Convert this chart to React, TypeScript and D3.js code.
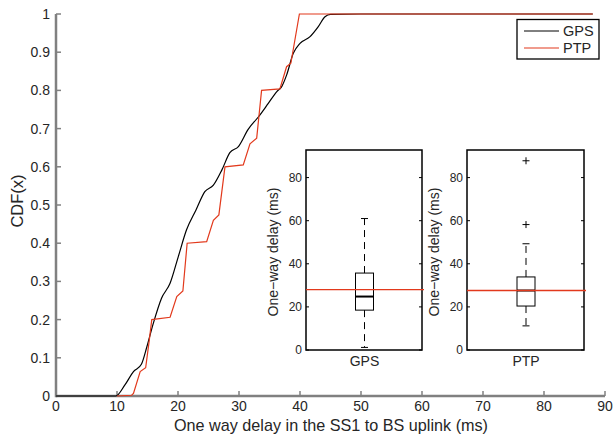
import React from "react";
import * as d3 from "d3";

// CDF samples (delay in ms, cumulative fraction)
const gpsDelay = [0, 9.8, 11.3, 12.7, 14.0, 14.9, 15.95, 17.3, 18.7, 20.05, 21.4, 22.95, 24.4, 25.8, 27.2, 28.5, 29.9, 31.5, 33.2, 34.8, 36.2, 37.0, 37.8, 38.9, 40.0, 41.6, 43.0, 44.1, 45.0, 50, 88];
const gpsCdf = [0, 0, 0.029, 0.064, 0.083, 0.129, 0.19, 0.256, 0.295, 0.365, 0.435, 0.487, 0.535, 0.552, 0.592, 0.637, 0.653, 0.698, 0.731, 0.766, 0.797, 0.81, 0.84, 0.897, 0.923, 0.94, 0.967, 0.993, 0.999, 1, 1];

const ptpDelay = [10, 12.4, 12.7, 13.8, 14.7, 15.3, 15.7, 18.7, 19.8, 20.8, 21.5, 24.7, 25.8, 26.7, 27.7, 30.7, 31.8, 32.9, 33.7, 36.7, 37.8, 38.5, 39.9, 88];
const ptpCdf = [0, 0.002, 0.007, 0.064, 0.074, 0.147, 0.2, 0.206, 0.26, 0.275, 0.4, 0.404, 0.46, 0.474, 0.6, 0.605, 0.66, 0.675, 0.8, 0.804, 0.862, 0.871, 1, 1];

const xTicks = [0, 10, 20, 30, 40, 50, 60, 70, 80, 90];
const yTicks = [0, 0.1, 0.2, 0.3, 0.4, 0.5, 0.6, 0.7, 0.8, 0.9, 1];
const insetTicks = [0, 20, 40, 60, 80];

// boxplot summaries: [lower whisker, q1, median, q3, upper whisker]
const boxNames = ["GPS", "PTP"];
const boxStats = [
  [1.2, 18.5, 24.8, 35.7, 61],
  [11.2, 20.4, 27.6, 33.9, 49.3],
];
const boxOutliers = [[], [58.2, 87.8]];
const refLine = [28, 27.6];

const W = 613;
const H = 437;
const font = "'Liberation Sans', Arial, sans-serif";
const axisGray = "#808080";
const textCol = "#262626";
const red = "#e2391c";

const Inset = ({ i, left, right }: { i: number; left: number; right: number }) => {
  const top = 150;
  const bottom = 350;
  const y = d3.scaleLinear().domain([0, 92.8]).range([bottom, top]);
  const cx = (left + right) / 2 + 0.5;
  const [lo, q1, med, q3, hi] = boxStats[i];
  const bw = 9;
  const cap = 3.5;
  return (
    <g>
      <rect x={left} y={top} width={right - left} height={bottom - top} fill="#fff" stroke="#000" strokeWidth={1.5} />
      {insetTicks.map((t) => (
        <g key={t}>
          <line x1={left} x2={left + 3} y1={y(t)} y2={y(t)} stroke="#000" />
          <line x1={right - 3} x2={right} y1={y(t)} y2={y(t)} stroke="#000" />
          <text x={left - 4} y={y(t) + 4} textAnchor="end" fontSize={12} fill={textCol}>
            {t}
          </text>
        </g>
      ))}
      <text
        transform={`translate(${left - 28},${(top + bottom) / 2 + 2}) rotate(-90)`}
        textAnchor="middle"
        fontSize={14}
        fill={textCol}
      >
        One−way delay (ms)
      </text>
      <text x={cx} y={bottom + 16} textAnchor="middle" fontSize={14} fill={textCol}>
        {boxNames[i]}
      </text>
      {/* whiskers */}
      <line x1={cx} x2={cx} y1={y(q3)} y2={y(hi)} stroke="#000" strokeDasharray="7,5" />
      <line x1={cx} x2={cx} y1={y(q1)} y2={y(lo)} stroke="#000" strokeDasharray="7,5" />
      <line x1={cx - cap} x2={cx + cap} y1={y(hi)} y2={y(hi)} stroke="#000" />
      <line x1={cx - cap} x2={cx + cap} y1={y(lo)} y2={y(lo)} stroke="#000" />
      <rect x={cx - bw} y={y(q3)} width={bw * 2} height={y(q1) - y(q3)} fill="none" stroke="#000" />
      <line x1={cx - bw} x2={cx + bw} y1={y(med)} y2={y(med)} stroke="#000" strokeWidth={2} />
      {boxOutliers[i].map((o) => (
        <g key={o} stroke="#000">
          <line x1={cx - 3.5} x2={cx + 3.5} y1={y(o)} y2={y(o)} />
          <line x1={cx} x2={cx} y1={y(o) - 3.5} y2={y(o) + 3.5} />
        </g>
      ))}
      <line x1={left} x2={right + 2} y1={y(refLine[i])} y2={y(refLine[i])} stroke={red} strokeWidth={1.3} />
    </g>
  );
};

const App = () => {
  const x = d3.scaleLinear().domain([0, 90]).range([56, 605]);
  const y = d3.scaleLinear().domain([0, 1]).range([396, 14]);

  const gpsPts: [number, number][] = gpsDelay.map((d, i) => [d, gpsCdf[i]]);
  const ptpPts: [number, number][] = ptpDelay.map((d, i) => [d, ptpCdf[i]]);

  const gpsLine = d3
    .line<[number, number]>()
    .x((d) => x(d[0]))
    .y((d) => y(d[1]))
    .curve(d3.curveMonotoneX);
  const ptpLine = d3
    .line<[number, number]>()
    .x((d) => x(d[0]))
    .y((d) => y(d[1]));

  return (
    <svg width={W} height={H} style={{ position: "absolute", left: 0, top: 0, background: "#fff" }} fontFamily={font}>
      {/* axes */}
      <line x1={x(0)} x2={x(90)} y1={y(0)} y2={y(0)} stroke={axisGray} strokeWidth={2.5} />
      <line x1={x(0)} x2={x(0)} y1={y(0) + 1.25} y2={y(1)} stroke={axisGray} strokeWidth={2.5} />
      {xTicks.map((t) => (
        <g key={t}>
          <line x1={x(t)} x2={x(t)} y1={y(0)} y2={y(0) - 5} stroke={axisGray} strokeWidth={1.5} />
          <text x={x(t)} y={410.5} textAnchor="middle" fontSize={14} fill={textCol}>
            {t}
          </text>
        </g>
      ))}
      {yTicks.map((t) => (
        <g key={t}>
          <line x1={x(0)} x2={x(0) + 5} y1={y(t)} y2={y(t)} stroke={axisGray} strokeWidth={1.5} />
          <text x={50} y={y(t) + 5} textAnchor="end" fontSize={14} fill={textCol}>
            {d3.format("~g")(t)}
          </text>
        </g>
      ))}
      <text x={331} y={431} textAnchor="middle" fontSize={16.2} fill={textCol}>
        One way delay in the SS1 to BS uplink (ms)
      </text>
      <text transform={`translate(23,201) rotate(-90)`} textAnchor="middle" fontSize={16.5} fill={textCol}>
        CDF(x)
      </text>

      {/* CDF curves */}
      <path d={gpsLine(gpsPts) ?? ""} fill="none" stroke="#000" strokeWidth={1.2} />
      <path d={ptpLine(ptpPts) ?? ""} fill="none" stroke={red} strokeWidth={1.2} />

      {/* legend */}
      <rect x={517} y={19.5} width={82} height={39.5} fill="#fff" stroke="#000" strokeWidth={1.3} />
      <line x1={524} x2={559} y1={31} y2={31} stroke="#000" />
      <line x1={524} x2={559} y1={48} y2={48} stroke={red} strokeWidth={1.2} />
      <text x={563} y={36} fontSize={14.5} fill={textCol}>
        GPS
      </text>
      <text x={563} y={53} fontSize={14.5} fill={textCol}>
        PTP
      </text>

      {/* box plot insets */}
      <Inset i={0} left={306} right={422} />
      <Inset i={1} left={467} right={584} />
    </svg>
  );
};

export default App;
